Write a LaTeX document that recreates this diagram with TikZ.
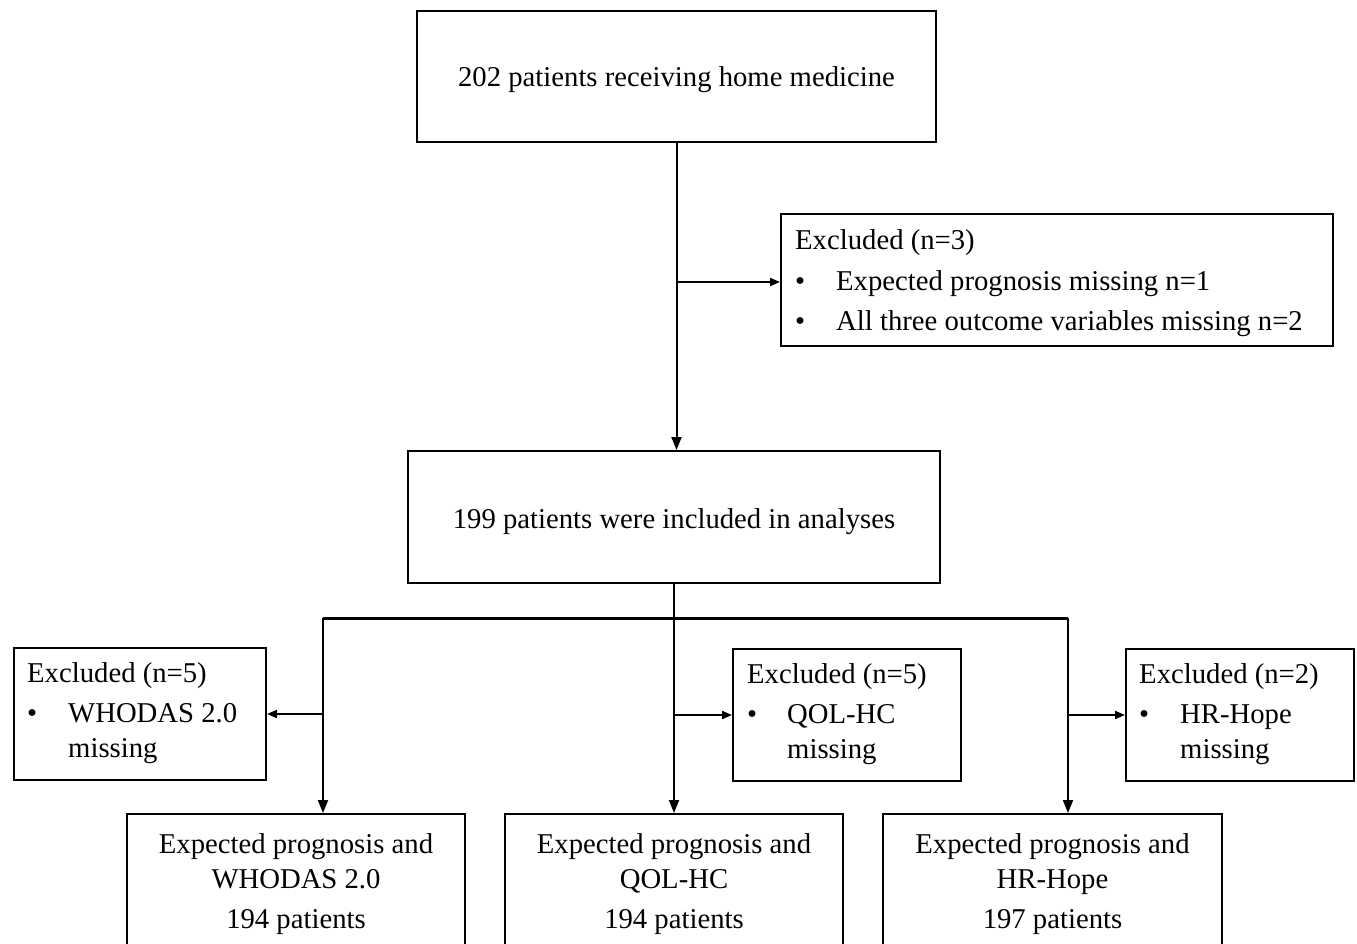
\documentclass[tikz,border=0pt]{standalone}
\usepackage{fontspec}
\setmainfont{Liberation Serif}
\usetikzlibrary{arrows.meta}
\begin{document}
\begin{tikzpicture}[x=1pt,y=-1pt,
  box/.style={draw,line width=2pt,inner sep=0pt},
  conn/.style={line width=2pt},
  tipbig/.style={-{Triangle[length=13pt,width=10pt]}},
  tipsmall/.style={-{Triangle[length=10pt,width=8pt]}},
  txt/.style={inner sep=0pt,anchor=base west,font=\fontsize{28.7}{34}\selectfont},
  ctxt/.style={inner sep=0pt,anchor=base,font=\fontsize{28.7}{34}\selectfont}]
\useasboundingbox (0,0) rectangle (1357,943);
\clip (0,0) rectangle (1357,943);
% boxes
\node[box,minimum width=519pt,minimum height=131pt] (top) at (676.5,76.5) {};
\node[box,minimum width=552pt,minimum height=132pt] (ex3) at (1057,280) {};
\node[box,minimum width=532pt,minimum height=132pt] (inc) at (674,517) {};
\node[box,minimum width=252pt,minimum height=132pt] (exL) at (140,714) {};
\node[box,minimum width=228pt,minimum height=132pt] (exM) at (847,715) {};
\node[box,minimum width=228pt,minimum height=132pt] (exR) at (1240,715) {};
\node[box,minimum width=338pt,minimum height=132pt] (bL) at (296,880) {};
\node[box,minimum width=338pt,minimum height=132pt] (bM) at (674,880) {};
\node[box,minimum width=339pt,minimum height=132pt] (bR) at (1052.5,880) {};
% texts
\node[ctxt] (tTop) at (676.5,86) {202 patients receiving home medicine};
\node[ctxt] (tInc) at (674,528) {199 patients were included in analyses};
\node[txt] (t3a) at (795,249) {Excluded (n=3)};
\node[txt] (t3b) at (795,290) {•};
\node[txt] (t3c) at (836,290) {Expected prognosis missing n=1};
\node[txt] (t3d) at (795,330) {•};
\node[txt] (t3e) at (836,330) {All three outcome variables missing n=2};
\node[txt] (tLa) at (27,682) {Excluded (n=5)};
\node[txt] (tLb) at (27,722) {•};
\node[txt] (tLc) at (68,722) {WHODAS 2.0};
\node[txt] (tLd) at (68,757) {missing};
\node[txt] (tMa) at (747,683) {Excluded (n=5)};
\node[txt] (tMb) at (747,723) {•};
\node[txt] (tMc) at (787,723) {QOL-HC};
\node[txt] (tMd) at (787,758) {missing};
\node[txt] (tRa) at (1139,683) {Excluded (n=2)};
\node[txt] (tRb) at (1139,723) {•};
\node[txt] (tRc) at (1180,723) {HR-Hope};
\node[txt] (tRd) at (1180,758) {missing};
\node[ctxt] (bLa) at (296,853) {Expected prognosis and};
\node[ctxt] (bLb) at (296,888) {WHODAS 2.0};
\node[ctxt] (bLc) at (296,928) {194 patients};
\node[ctxt] (bMa) at (674,853) {Expected prognosis and};
\node[ctxt] (bMb) at (674,888) {QOL-HC};
\node[ctxt] (bMc) at (674,928) {194 patients};
\node[ctxt] (bRa) at (1052.5,853) {Expected prognosis and};
\node[ctxt] (bRb) at (1052.5,888) {HR-Hope};
\node[ctxt] (bRc) at (1052.5,928) {197 patients};
% connectors
\coordinate (j1) at (top.south |- 0,282);
\draw[conn,tipbig] (top.south) -- (top.south |- inc.north);
\draw[conn,tipsmall] (j1) -- (ex3.west |- j1);
\coordinate (hL) at (323,618);
\coordinate (hR) at (1068,618);
\draw[line width=3pt] (hL) -- (hR);
\draw[conn,tipbig] (inc.south) -- (bM.north);
\draw[conn,tipbig] (hL) -- (hL |- bL.north);
\draw[conn,tipbig] (hR) -- (hR |- bR.north);
\coordinate (jL) at (hL |- exL.east);
\coordinate (jM) at (inc.south |- exM.west);
\coordinate (jR) at (hR |- exR.west);
\draw[conn,tipsmall] (jL) -- (exL.east);
\draw[conn,tipsmall] (jM) -- (exM.west);
\draw[conn,tipsmall] (jR) -- (exR.west);
\end{tikzpicture}
\end{document}
